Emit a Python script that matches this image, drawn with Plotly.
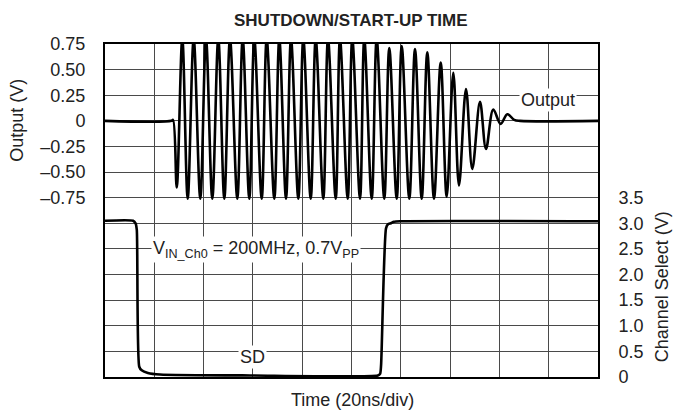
import plotly.graph_objects as go

# ---- data (time in ns, 20 ns/div) ----
out_t = [0, 27.0, 27.6, 29.1, 31.36, 33.55, 35.98, 38.66, 40.97, 43.53, 45.96, 48.4, 50.71,
         53.67, 55.86, 58.54, 60.57, 63.57, 65.6, 68.68, 70.71, 73.43, 75.46, 78.42, 80.45,
         83.45, 85.48, 88.56, 90.47, 93.59, 95.33, 98.46, 100.32, 103.45, 105.19, 108.2,
         110.22, 113.3, 115.33, 118.34, 120.37, 123.45, 125.76, 128.48, 130.75, 133.47,
         136.19, 138.62, 141.3, 143.6, 146.45, 149.0, 152.13, 154.56, 157.53, 160.5, 163.2,
         166.0, 168.4, 200]
out_v = [0, 0, 0.01, -0.65, 0.80, -0.76, 0.80, -0.76, 0.80, -0.76, 0.80, -0.76, 0.80,
         -0.76, 0.80, -0.76, 0.80, -0.76, 0.80, -0.76, 0.80, -0.76, 0.80, -0.76, 0.80,
         -0.76, 0.80, -0.76, 0.80, -0.76, 0.80, -0.76, 0.80, -0.76, 0.80, -0.76,
         0.80, -0.76, 0.71, -0.76, 0.73, -0.76, 0.70, -0.76, 0.67, -0.76,
         0.57, -0.74, 0.47, -0.63, 0.31, -0.47, 0.185, -0.275, 0.11, -0.03, 0.065,
         0.01, 0, 0]

sd_t = [0, 11.4, 12.4, 12.9, 13.9, 14.9, 17.4, 22.3, 58.8, 110.7, 111.6, 112.0, 114.0,
        114.8, 116.0, 117.2, 119.7, 200]
sd_v = [3.05, 3.05, 3.0, 2.87, 0.2, 0.13, 0.08, 0.05, 0.03, 0.03, 0.06, 0.23, 2.9,
        2.98, 3.0, 3.03, 3.04, 3.04]

left_ticks = [-2.5, -2.25, -2.0, -1.75, -1.5, -1.25, -1.0, -0.75, -0.5, -0.25, 0, 0.25, 0.5, 0.75]
left_text = ["", "", "", "", "", "", "", "–0.75", "–0.50", "–0.25", "0", "0.25", "0.50", "0.75"]
right_ticks = [0, 0.5, 1.0, 1.5, 2.0, 2.5, 3.0, 3.5]
right_text = ["0", "0.5", "1.0", "1.5", "2.0", "2.5", "3.0", "3.5"]
x_ticks = [0, 20, 40, 60, 80, 100, 120, 140, 160, 180, 200]

FONT = "Liberation Sans, Arial, Helvetica, sans-serif"
TXT = "#222222"
GRID = "#4a4a4a"
FS = 18

fig = go.Figure()
fig.add_trace(go.Scatter(x=out_t, y=out_v, mode="lines", yaxis="y",
                         line=dict(color="black", width=2.6, shape="spline", smoothing=1.0),
                         showlegend=False, hoverinfo="skip"))
fig.add_trace(go.Scatter(x=sd_t, y=sd_v, mode="lines", yaxis="y2",
                         line=dict(color="black", width=2.6, shape="spline", smoothing=0.6),
                         showlegend=False, hoverinfo="skip"))

fig.update_layout(
    width=675, height=415,
    margin=dict(l=105, r=77, t=44, b=38),
    paper_bgcolor="white", plot_bgcolor="white",
    font=dict(family=FONT, size=FS, color=TXT),
    xaxis=dict(range=[0, 200], tickvals=x_ticks, showticklabels=False,
               showgrid=True, gridcolor=GRID, gridwidth=1, zeroline=False,
               showline=True, linecolor="black", linewidth=2, mirror=True, ticks=""),
    yaxis=dict(range=[-2.5, 0.75], tickvals=left_ticks, ticktext=left_text,
               showgrid=True, gridcolor=GRID, gridwidth=1, zeroline=False,
               showline=True, linecolor="black", linewidth=2, mirror=True,
               ticks="outside", ticklen=14, tickcolor="rgba(0,0,0,0)",
               tickfont=dict(size=FS, color=TXT)),
    yaxis2=dict(range=[0, 6.5], tickvals=right_ticks, ticktext=right_text,
                overlaying="y", side="right", showgrid=False, zeroline=False,
                showline=False, ticks="outside", ticklen=16, tickcolor="rgba(0,0,0,0)",
                tickfont=dict(size=FS, color=TXT)),
    annotations=[
        dict(text="<b>SHUTDOWN/START-UP TIME</b>", xref="paper", yref="paper",
             x=(351 - 105) / 493, y=(377 - 20) / 333, xanchor="center", yanchor="middle",
             showarrow=False, font=dict(size=17, color=TXT)),
        dict(text="Output (V)", xref="paper", yref="y", x=(17 - 105) / 493, y=0,
             textangle=-90, xanchor="center", yanchor="middle", showarrow=False,
             font=dict(size=FS, color=TXT)),
        dict(text="Channel Select (V)", xref="paper", yref="y2", x=(662 - 105) / 493, y=1.75,
             textangle=-90, xanchor="center", yanchor="middle", showarrow=False,
             font=dict(size=FS, color=TXT)),
        dict(text="Time (20ns/div)", xref="paper", yref="paper", x=(352 - 105) / 493,
             y=(377 - 400) / 333, xanchor="center", yanchor="middle", showarrow=False,
             font=dict(size=FS, color=TXT)),
        dict(text="Output", xref="x", yref="y", x=179.7, y=0.2, xanchor="center",
             yanchor="middle", showarrow=False, bgcolor="white", borderpad=1,
             font=dict(size=FS, color=TXT)),
        dict(text="SD", xref="x", yref="y2", x=60, y=0.40, xanchor="center",
             yanchor="middle", showarrow=False, bgcolor="white", borderpad=1,
             font=dict(size=FS, color=TXT)),
        dict(text="V<sub>IN_Ch0</sub> = 200MHz, 0.7V<sub>PP</sub>", xref="x", yref="y2",
             x=61.4, y=2.48, xanchor="center", yanchor="middle", showarrow=False,
             bgcolor="white", borderpad=1, font=dict(size=FS, color=TXT)),
    ],
)

fig.write_html("out.html", config={"displayModeBar": False},
               post_script="document.body.style.margin='0';")
